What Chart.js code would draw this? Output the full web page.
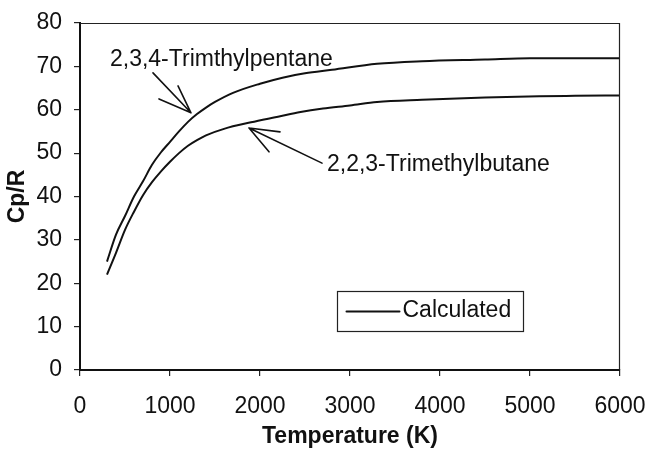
<!DOCTYPE html>
<html><head><meta charset="utf-8">
<script src="https://cdn.jsdelivr.net/npm/chart.js@4.4.1/dist/chart.umd.min.js"></script>
<style>html,body{margin:0;padding:0;background:#fff;}#wrap{width:647px;height:451px;}</style>
</head><body><div id="wrap"><canvas id="c" width="647" height="451"></canvas></div>
<script>
// ---- data ----
const temps234 = [300,400,500,600,700,800,900,1000,1100,1200,1300,1400,1500,1700,2000,2250,2500,2800,3300,3800,4500,5000,5500,6000];
const cpR234   = [25,31.2,35.5,40,43.5,47.3,50.2,52.6,55,57.2,59,60.5,61.8,63.9,66,67.4,68.4,69.2,70.6,71.2,71.6,71.9,71.9,71.9];
const temps223 = [300,400,500,600,700,800,900,1000,1100,1200,1300,1400,1600,1900,2200,2450,2700,3000,3300,3800,4500,5100,5500,6000];
const cpR223   = [22,27,32.3,36.5,40.3,43.3,45.8,48,50,51.7,53,54.1,55.6,57.1,58.4,59.5,60.3,61,61.8,62.3,62.8,63.1,63.2,63.3];
const xTickValues = [0,1000,2000,3000,4000,5000,6000];
const yTickValues = [0,10,20,30,40,50,60,70,80];
const seriesName = 'Calculated';
const compoundNames = ['2,3,4-Trimthylpentane','2,2,3-Trimethylbutane'];
const xTitle = 'Temperature (K)';
const yTitle = 'Cp/R';

// annotation placement in data coordinates
const labelAnchors = [[333,71.5],[2744,47.3]];
const arrowSpecs = [
  {from:[811,68.5], tip:[1233,59.3], barbs:[[878,62.5],[1089,65.5]]},
  {from:[2689,47.7], tip:[1878,55.8], barbs:[[2222,54.9],[2100,50.3]]}
];

const FONT = "'Liberation Sans', Arial, sans-serif";
const toXY = (xs, ys) => xs.map((x,i)=>({x:x, y:ys[i]}));

const framePlugin = {
  id:'frame',
  afterDatasetsDraw(chart){
    const {ctx, chartArea:a, scales:{x,y}} = chart;
    ctx.save();
    ctx.strokeStyle = '#222'; ctx.lineWidth = 1.2;
    ctx.beginPath();
    ctx.moveTo(a.left, a.top+0.5); ctx.lineTo(a.right-0.5, a.top+0.5); ctx.lineTo(a.right-0.5, a.bottom);
    ctx.stroke();
    ctx.fillStyle = '#111';
    ctx.font = '23px ' + FONT;
    ctx.textBaseline = 'middle'; ctx.textAlign = 'left';
    compoundNames.forEach((t,i)=>{
      ctx.fillText(t, x.getPixelForValue(labelAnchors[i][0]), y.getPixelForValue(labelAnchors[i][1]));
    });
    ctx.strokeStyle = '#111'; ctx.lineWidth = 1.6; ctx.lineCap = 'round';
    arrowSpecs.forEach(a2=>{
      const P = p => [x.getPixelForValue(p[0]), y.getPixelForValue(p[1])];
      const f = P(a2.from), t = P(a2.tip);
      ctx.beginPath(); ctx.moveTo(f[0],f[1]); ctx.lineTo(t[0],t[1]);
      a2.barbs.forEach(b=>{ const q=P(b); ctx.moveTo(t[0],t[1]); ctx.lineTo(q[0],q[1]); });
      ctx.stroke();
    });
    const lx = x.getPixelForValue(2850), ly = y.getPixelForValue(18.3);
    const lw = 186, lh = 40;
    ctx.lineWidth = 1.2; ctx.strokeStyle = '#222';
    ctx.strokeRect(Math.round(lx)+0.5, Math.round(ly)+0.5, lw, lh);
    ctx.lineWidth = 2; ctx.strokeStyle = '#111';
    ctx.beginPath(); ctx.moveTo(lx+10, ly+21); ctx.lineTo(lx+63, ly+21); ctx.stroke();
    ctx.fillText(chart.data.datasets[0].label, lx+66, ly+20);
    ctx.restore();
  }
};

new Chart(document.getElementById('c'), {
  type:'line',
  data:{datasets:[
    {label:seriesName, data:toXY(temps234,cpR234), borderColor:'#111', borderWidth:2, pointRadius:0, cubicInterpolationMode:'monotone', fill:false},
    {label:seriesName, data:toXY(temps223,cpR223), borderColor:'#111', borderWidth:2, pointRadius:0, cubicInterpolationMode:'monotone', fill:false}
  ]},
  options:{
    responsive:false, animation:false, devicePixelRatio:1,
    layout:{padding:{top:23,right:27,left:0,bottom:0}},
    plugins:{legend:{display:false}, tooltip:{enabled:false}},
    scales:{
      x:{type:'linear', min:0, max:6000,
        afterBuildTicks: s => { s.ticks = xTickValues.map(v=>({value:v})); },
        afterFit: s => { s.height = 81; s.paddingLeft = 0; s.paddingRight = 0; },
        ticks:{font:{family:FONT,size:23}, color:'#111', padding:17, maxRotation:0, callback: v => String(v)},
        grid:{drawOnChartArea:false, drawTicks:true, tickLength:6, color:'#222', lineWidth:1.2},
        border:{display:true, color:'#111', width:2},
        title:{display:true, text:xTitle, font:{family:FONT,size:23,weight:'bold'}, color:'#111', padding:{top:0,bottom:1}}
      },
      y:{type:'linear', min:0, max:80,
        afterBuildTicks: s => { s.ticks = yTickValues.map(v=>({value:v})); },
        afterFit: s => { s.width = 80; s.paddingTop = 0; s.paddingBottom = 0; },
        ticks:{font:{family:FONT,size:23}, color:'#111', padding:12, callback: v => String(v)},
        grid:{drawOnChartArea:false, drawTicks:true, tickLength:6, color:'#222', lineWidth:1.2},
        border:{display:true, color:'#111', width:2},
        title:{display:true, text:yTitle, font:{family:FONT,size:23,weight:'bold'}, color:'#111', padding:{top:4,bottom:0}}
      }
    }
  },
  plugins:[framePlugin]
});
</script></body></html>
